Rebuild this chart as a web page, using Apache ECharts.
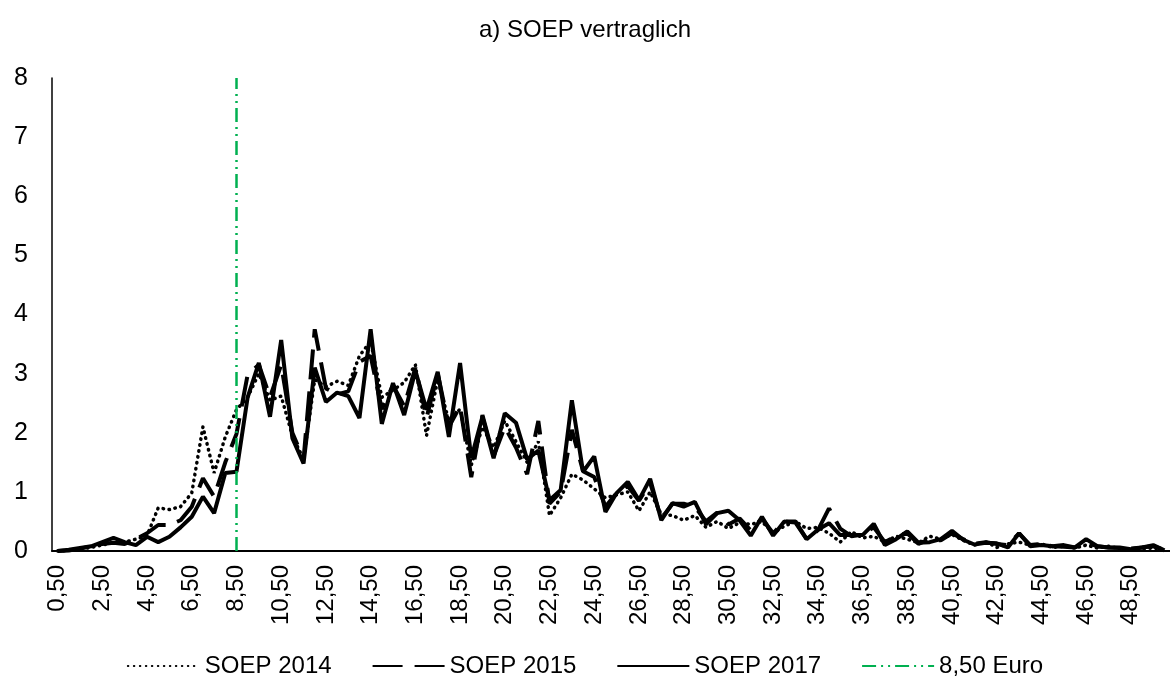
<!DOCTYPE html>
<html>
<head>
<meta charset="utf-8">
<script src="https://cdn.jsdelivr.net/npm/echarts@6/dist/echarts.min.js"></script>
<style>
  html, body { margin: 0; padding: 0; background: #fff; }
  #chart { width: 1170px; height: 691px; }
</style>
</head>
<body>
<div id="chart"></div>
<script>
// hourly wage bins, 0,50 .. 50,00 in steps of 0,50
var categories = [];
for (var k = 1; k <= 100; k++) {
    categories.push((k * 0.5).toFixed(2).replace('.', ','));
}

var soep2014 = [0, 0.01, 0.03, 0.06, 0.1, 0.14, 0.15, 0.2, 0.26, 0.73,
    0.7, 0.75, 0.98, 2.1, 1.32, 1.93, 2.39, 2.6, 3.0, 2.55,
    2.62, 1.95, 1.55, 2.9, 2.78, 2.87, 2.8, 3.3, 3.55, 2.6,
    2.72, 2.85, 3.15, 1.95, 2.9, 2.2, 2.4, 1.45, 2.1, 1.75,
    2.2, 1.85, 1.5, 1.85, 0.6, 0.9, 1.3, 1.2, 1.05, 0.9,
    0.95, 1.0, 0.68, 1.0, 0.62, 0.6, 0.52, 0.6, 0.4, 0.5,
    0.38, 0.48, 0.45, 0.5, 0.3, 0.42, 0.5, 0.38, 0.4, 0.3,
    0.15, 0.33, 0.22, 0.25, 0.15, 0.25, 0.2, 0.14, 0.25, 0.2,
    0.28, 0.18, 0.1, 0.16, 0.06, 0.12, 0.15, 0.1, 0.12, 0.06,
    0.08, 0.05, 0.1, 0.05, 0.08, 0.04, 0.03, 0.04, 0.05, 0.02];

var soep2015 = [0, 0.01, 0.04, 0.08, 0.12, 0.14, 0.12, 0.2, 0.3, 0.44,
    0.44, 0.52, 0.75, 1.23, 0.92, 1.5, 1.98, 2.98, 3.15, 2.6,
    3.15, 2.0, 1.55, 3.75, 2.75, 2.65, 2.7, 3.2, 3.3, 2.4,
    2.8, 2.45, 3.1, 2.25, 3.0, 2.1, 2.45, 1.25, 2.3, 1.6,
    2.1, 1.75, 1.3, 2.2, 0.8, 1.0, 2.05, 1.35, 1.25, 0.75,
    0.98, 1.1, 0.85, 1.15, 0.55, 0.8, 0.8, 0.75, 0.5, 0.65,
    0.45, 0.55, 0.35, 0.55, 0.3, 0.5, 0.5, 0.2, 0.35, 0.72,
    0.38, 0.25, 0.28, 0.4, 0.15, 0.25, 0.3, 0.12, 0.2, 0.18,
    0.3, 0.2, 0.12, 0.15, 0.12, 0.1, 0.3, 0.1, 0.12, 0.08,
    0.1, 0.06, 0.15, 0.08, 0.06, 0.05, 0.04, 0.06, 0.08, 0.02];

var soep2017 = [0, 0.02, 0.05, 0.08, 0.15, 0.22, 0.15, 0.1, 0.24, 0.15,
    0.24, 0.4, 0.58, 0.92, 0.64, 1.32, 1.34, 2.6, 3.18, 2.27,
    3.57, 1.91, 1.48, 3.1, 2.52, 2.68, 2.62, 2.25, 3.75, 2.15,
    2.84, 2.3, 3.05, 2.39, 3.03, 1.93, 3.18, 1.57, 2.27, 1.57,
    2.33, 2.17, 1.55, 1.7, 0.86, 1.03, 2.55, 1.34, 1.6, 0.66,
    0.98, 1.17, 0.86, 1.22, 0.52, 0.81, 0.75, 0.83, 0.45, 0.64,
    0.68, 0.52, 0.26, 0.58, 0.26, 0.5, 0.48, 0.2, 0.36, 0.47,
    0.27, 0.27, 0.27, 0.46, 0.1, 0.2, 0.33, 0.14, 0.15, 0.2,
    0.34, 0.19, 0.11, 0.14, 0.13, 0.06, 0.3, 0.08, 0.1, 0.08,
    0.07, 0.06, 0.2, 0.08, 0.06, 0.06, 0.03, 0.06, 0.1, 0.01];

var mindestlohn = '8,50';
var yTicks = [0, 8, 1];

var font = '"Liberation Sans", Arial, sans-serif';

var chart = echarts.init(document.getElementById('chart'));

var option = {
    backgroundColor: '#ffffff',
    animation: false,
    title: {
        text: 'a) SOEP vertraglich',
        left: 'center',
        top: 13,
        textStyle: { fontFamily: font, fontSize: 24, fontWeight: 'normal', color: '#000' }
    },
    legend: {
        bottom: 8,
        left: 'center',
        itemWidth: 72,
        itemHeight: 14,
        itemGap: 40,
        itemStyle: { opacity: 0 },
        textStyle: { fontFamily: font, fontSize: 24, color: '#000' },
        data: ['SOEP 2014', 'SOEP 2015', 'SOEP 2017', '8,50 Euro']
    },
    grid: { left: 52, right: 0, top: 78, bottom: 140 },
    xAxis: {
        type: 'category',
        data: categories,
        boundaryGap: true,
        axisLine: { lineStyle: { color: '#000', width: 2 } },
        axisTick: { show: false },
        axisLabel: {
            interval: 3,
            rotate: 90,
            margin: 14,
            fontFamily: font,
            fontSize: 24,
            color: '#000'
        }
    },
    yAxis: {
        type: 'value',
        min: yTicks[0],
        max: yTicks[1],
        interval: yTicks[2],
        splitLine: { show: false },
        axisLine: { show: true, lineStyle: { color: '#000', width: 1.5 } },
        axisTick: { show: false },
        axisLabel: { fontFamily: font, fontSize: 25, color: '#000', margin: 24 }
    },
    series: [
        {
            name: 'SOEP 2014',
            type: 'line',
            data: soep2014,
            symbol: 'none',
            color: '#000',
            lineStyle: { color: '#000', width: 3.5, type: [0.5, 5.5], cap: 'round' }
        },
        {
            name: 'SOEP 2015',
            type: 'line',
            data: soep2015,
            symbol: 'none',
            color: '#000',
            lineStyle: { color: '#000', width: 4, type: [30, 12] }
        },
        {
            name: 'SOEP 2017',
            type: 'line',
            data: soep2017,
            symbol: 'none',
            color: '#000',
            lineStyle: { color: '#000', width: 4 }
        },
        {
            name: '8,50 Euro',
            type: 'line',
            data: [],
            symbol: 'none',
            color: '#00b050',
            lineStyle: { color: '#00b050', width: 2.5, type: [14, 5, 2, 5, 2, 5] },
            markLine: {
                silent: true,
                symbol: 'none',
                label: { show: false },
                lineStyle: { color: '#00b050', width: 2.5, type: [14, 5, 2, 5, 2, 5] },
                data: [{ xAxis: mindestlohn }]
            }
        }
    ]
};

chart.setOption(option);
</script>
</body>
</html>
